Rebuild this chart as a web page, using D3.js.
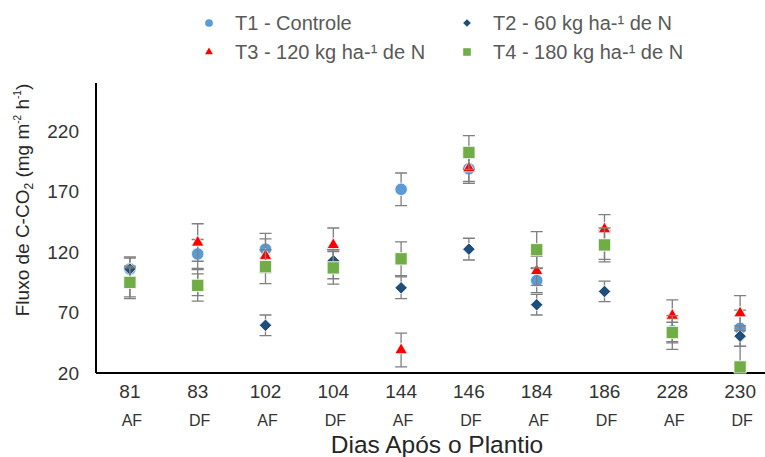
<!DOCTYPE html>
<html>
<head>
<meta charset="utf-8">
<script src="https://cdn.jsdelivr.net/npm/d3@7"></script>
<style>
  html, body { margin: 0; padding: 0; background: #fff; }
  svg { display: block; font-family: "Liberation Sans", Arial, sans-serif; }
</style>
</head>
<body>
<svg id="chart" width="765" height="457"></svg>
<script>
// Days after planting (sampling dates) and sampling moment (AF / DF)
const categories = ["81", "83", "102", "104", "144", "146", "184", "186", "228", "230"];
const moments = ["AF", "DF", "AF", "DF", "AF", "DF", "AF", "DF", "AF", "DF"];
const yTicks = [20, 70, 120, 170, 220];

// C-CO2 flux (mg m-2 h-1) per treatment and standard error
const t1Values = [106, 118.5, 122.5, 110, 172, 189, 96.5, 126, 55, 57];
const t1Errors = [10, 12, 13, 12, 13.5, 12, 10, 12, 10, 15];
const t2Values = [106, 93, 59.5, 113, 90.5, 122.5, 76.5, 87.5, 54, 50.5];
const t2Errors = [9, 9, 8.5, 9, 9, 9, 8.5, 8.5, 8, 8.5];
const t3Values = [95, 128, 117, 126, 39, 189.5, 104.5, 139, 67.5, 69.5];
const t3Errors = [12, 15.5, 14, 14, 14, 11, 12, 12, 13, 14.5];
const t4Values = [95, 92.5, 108, 107, 114.5, 202.5, 122, 126, 53.5, 25];
const t4Errors = [13.5, 13, 14, 13.5, 14, 14, 15, 14, 14, 17];

const seriesNames = ["T1 - Controle", "T2 - 60 kg ha-¹ de N", "T3 - 120 kg ha-¹ de N", "T4 - 180 kg ha-¹ de N"];

const series = [
  { name: seriesNames[0], values: t1Values, errors: t1Errors, color: "#5B9BD5", shape: "circle" },
  { name: seriesNames[1], values: t2Values, errors: t2Errors, color: "#1F4E79", shape: "diamond" },
  { name: seriesNames[2], values: t3Values, errors: t3Errors, color: "#FF0000", shape: "triangle" },
  { name: seriesNames[3], values: t4Values, errors: t4Errors, color: "#70AD47", shape: "square" }
];

const svg = d3.select("#chart");
const plotLeft = 96, plotRight = 774, plotTop = 83, plotBottom = 373;

const x = d3.scaleBand().domain(categories).range([plotLeft, plotRight]);
const y = d3.scaleLinear().domain([20, 260]).range([plotBottom, plotTop]);

function markerPath(shape, scale) {
  const k = scale || 1;
  if (shape === "circle") return d3.symbol(d3.symbolCircle, 122 * k * k)();
  if (shape === "square") return d3.symbol(d3.symbolSquare, 150 * k * k)();
  if (shape === "triangle") return d3.symbol(d3.symbolTriangle, 68 * k * k)();
  return d3.symbol(d3.symbolSquare, 78 * k * k)(); // rotated below into a diamond
}
function markerTransform(shape, cx, cy) {
  return `translate(${cx},${cy})` + (shape === "diamond" ? " rotate(45)" : "");
}

// Clip for error bars so they stay inside the plot area
svg.append("clipPath").attr("id", "plotClip")
  .append("rect").attr("x", plotLeft).attr("y", plotTop - 20)
  .attr("width", plotRight - plotLeft).attr("height", plotBottom - plotTop + 20);

// Y axis
const yAxis = svg.append("g")
  .attr("transform", `translate(${plotLeft},0)`)
  .call(d3.axisLeft(y).tickValues(yTicks).tickSize(0).tickPadding(17).tickFormat(d3.format("d")));
yAxis.select(".domain").attr("stroke", "#000").attr("stroke-width", 2)
  .attr("d", `M0,${plotTop}V${plotBottom}`);
yAxis.selectAll("text").attr("font-size", 19).attr("fill", "#333")
  .attr("font-family", "Liberation Sans, Arial, sans-serif");

// X axis
const xAxis = svg.append("g")
  .attr("transform", `translate(0,${plotBottom})`)
  .call(d3.axisBottom(x).tickSize(0).tickPadding(0));
xAxis.select(".domain").attr("stroke", "#000").attr("stroke-width", 2)
  .attr("d", `M${plotLeft},0H${plotRight}`);
xAxis.selectAll("text").attr("font-size", 19).attr("fill", "#333")
  .attr("font-family", "Liberation Sans, Arial, sans-serif")
  .attr("y", 19).attr("dy", "0.32em");

// Sampling moment row
svg.append("g").selectAll("text")
  .data(categories)
  .join("text")
  .attr("x", d => x(d) + x.bandwidth() / 2 + 2)
  .attr("y", 420)
  .attr("dy", "0.35em")
  .attr("text-anchor", "middle")
  .attr("font-size", 16)
  .attr("fill", "#333")
  .text((d, i) => moments[i]);

// Axis titles
svg.append("text")
  .attr("x", 437).attr("y", 444).attr("dy", "0.35em")
  .attr("text-anchor", "middle")
  .attr("font-size", 24.5)
  .attr("fill", "#262626")
  .text("Dias Após o Plantio");

const yTitle = svg.append("text")
  .attr("transform", "translate(29,200) rotate(-90)")
  .attr("text-anchor", "middle")
  .attr("font-size", 19)
  .attr("fill", "#262626");
yTitle.append("tspan").text("Fluxo de C-CO");
yTitle.append("tspan").attr("font-size", 12).attr("dy", 4).text("2");
yTitle.append("tspan").attr("dy", -4).text(" (mg m");
yTitle.append("tspan").attr("font-size", 10).attr("dy", -8).text("-2");
yTitle.append("tspan").attr("dy", 8).text(" h");
yTitle.append("tspan").attr("font-size", 10).attr("dy", -8).text("-1");
yTitle.append("tspan").attr("dy", 8).text(")");

// Data: error bars and markers per treatment
const plot = svg.append("g");
series.forEach(s => {
  const pts = categories.map((c, i) => ({ c, v: s.values[i], e: s.errors[i] }));
  const g = plot.append("g");
  const eb = g.append("g").attr("clip-path", "url(#plotClip)")
    .attr("stroke", "#7F7F7F").attr("stroke-width", 1.3).attr("fill", "none");
  const cx = d => x(d.c) + x.bandwidth() / 2;
  eb.selectAll("path").data(pts).join("path")
    .attr("d", d => {
      const xc = cx(d), y1 = y(d.v + d.e), y0 = y(d.v - d.e);
      return `M${xc},${y1}V${y0}M${xc - 6},${y1}H${xc + 6}M${xc - 6},${y0}H${xc + 6}`;
    });
  g.selectAll("path.mark").data(pts).join("path")
    .attr("class", "mark")
    .attr("d", markerPath(s.shape))
    .attr("transform", d => markerTransform(s.shape, cx(d), y(d.v)))
    .attr("fill", s.color)
    .attr("stroke", "#fff").attr("stroke-width", 0.8);
});

// Legend
const legendPos = [[209, 23], [467, 23], [209, 52], [467, 52]];
const legend = svg.append("g");
series.forEach((s, i) => {
  const [lx, ly] = legendPos[i];
  legend.append("path")
    .attr("d", markerPath(s.shape, 0.62))
    .attr("transform", markerTransform(s.shape, lx, ly))
    .attr("fill", s.color);
  legend.append("text")
    .attr("x", lx + 26).attr("y", ly).attr("dy", "0.35em")
    .attr("font-size", 20).attr("fill", "#595959")
    .text(s.name);
});
</script>
</body>
</html>
